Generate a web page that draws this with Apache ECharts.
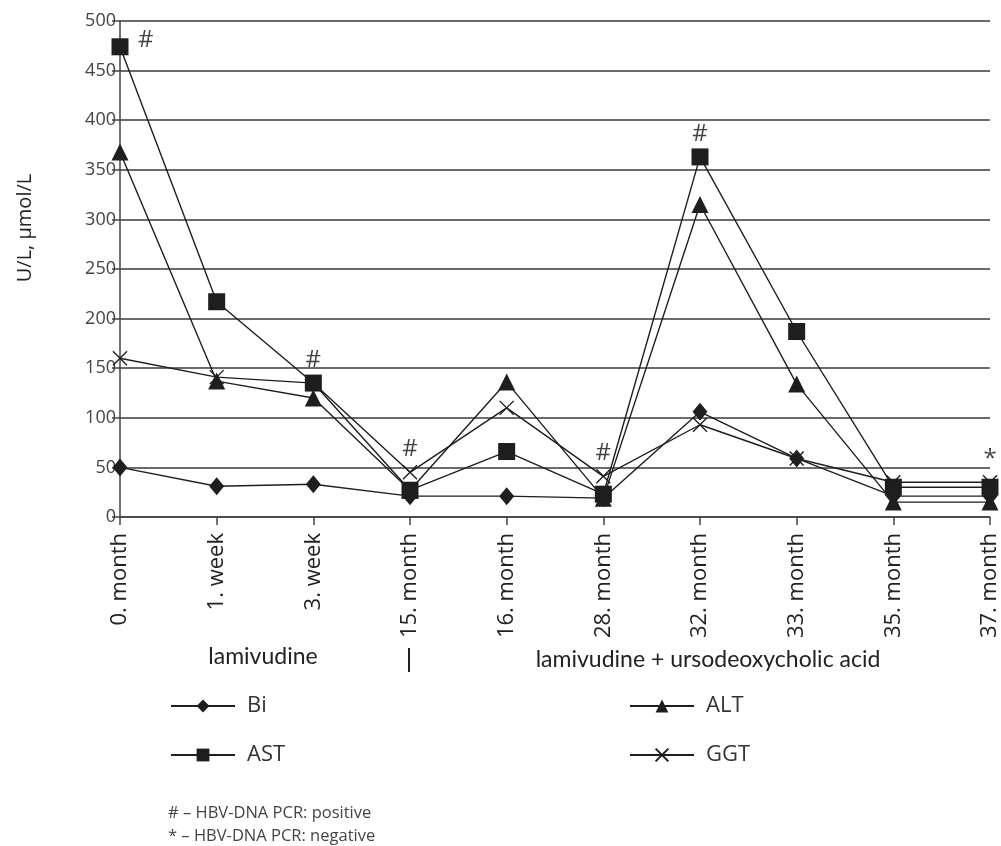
<!DOCTYPE html>
<html><head><meta charset="utf-8">
<script src="https://cdn.jsdelivr.net/npm/echarts/dist/echarts.min.js"></script>
<style>html,body{margin:0;padding:0;background:#fff}#c{width:1001px;height:846px}</style>
</head><body><div id="c"></div>
<script>
// ---- data ----
const categories = ['0. month','1. week','3. week','15. month','16. month','28. month','32. month','33. month','35. month','37. month'];
const bi  = [50, 31, 33, 21, 21, 19, 106, 59, 21, 21];
const ast = [474, 217, 135, 27, 66, 23, 363, 187, 30, 30];
const alt = [368, 137, 120, 27, 136, 19, 315, 134, 15, 15];
const ggt = [160, 141, 135, 45, 110, 41, 93, 59, 35, 35];
const hbvMarks = ['#','','#','#','','#','#','','','*'];
const yMin = 0, yMax = 500, yInterval = 50;
const seriesNames = ['Bi','AST','ALT','GGT'];
const yAxisTitle = 'U/L, \u00b5mol/L';
const periodLabels = ['lamivudine','lamivudine + ursodeoxycholic acid'];
const footnotes = ['# \u2013 HBV-DNA PCR: positive','* \u2013 HBV-DNA PCR: negative'];

// ---- chart ----
const INK = '#1e1e1e';
const chart = echarts.init(document.getElementById('c'), null, {renderer:'canvas'});
const topVals = categories.map((c,i)=>Math.max(bi[i],ast[i],alt[i],ggt[i]));

function lineSeries(name, data, symbol, size, extra){
  return Object.assign({
    name, type:'line', data, symbol, symbolSize:size,
    showAllSymbol:true,
    lineStyle:{color:INK, width:1.4},
    itemStyle:{color:INK, borderWidth:0},
    emphasis:{disabled:true},
    z:3
  }, extra||{});
}

const legendCommon = {
  orient:'vertical', top:695, padding:0,
  itemWidth:64, itemHeight:16, itemGap:27,
  textStyle:{fontSize:22, color:'#333', lineHeight:22, fontFamily:'Open Sans', padding:[0,0,0,7]}
};

const option = {
  backgroundColor:'#fff',
  animation:false,
  textStyle:{fontFamily:'Open Sans'},
  grid:{left:120, right:11, top:21, bottom:329, containLabel:false, outerBoundsMode:'none'},
  xAxis:{
    type:'category', data:categories, boundaryGap:false,
    axisLine:{show:true, lineStyle:{color:'#444', width:1.5}},
    axisTick:{show:true, length:8, inside:false, lineStyle:{color:'#444', width:1.5}},
    axisLabel:{rotate:90, margin:16, fontSize:22, color:'#222', fontFamily:'Open Sans', interval:0},
    splitLine:{show:false}
  },
  yAxis:{
    type:'value', min:yMin, max:yMax, interval:yInterval,
    axisLine:{show:true, lineStyle:{color:'#444', width:1.5}},
    axisTick:{show:true, length:8, lineStyle:{color:'#444', width:1.5}},
    axisLabel:{fontSize:18, color:'#444', margin:4, fontFamily:'Open Sans'},
    splitLine:{show:true, lineStyle:{color:'#3a3a3a', width:1.5}}
  },
  legend:[
    Object.assign({data:[seriesNames[0], seriesNames[1]], left:170}, legendCommon),
    Object.assign({data:[seriesNames[2], seriesNames[3]], left:629}, legendCommon)
  ],
  series:[
    lineSeries(seriesNames[0], bi, 'diamond', [15,18]),
    lineSeries(seriesNames[1], ast, 'rect', 17),
    lineSeries(seriesNames[2], alt, 'triangle', 17),
    lineSeries(seriesNames[3], ggt, 'path://M0,0L10,10M10,0L0,10', 14,
      {itemStyle:{color:INK, borderColor:INK, borderWidth:1.4}}),
    {
      name:'marks', type:'scatter', symbolSize:0, silent:true, z:5,
      data: topVals.map((v,i)=> hbvMarks[i] ? (i===0 ?
        {value:v, label:{position:'right', distance:18, offset:[0,-7]}} : v) : '-'),
      label:{show:true, position:'top', distance:11, fontSize:24, color:'#111', fontFamily:'Open Sans',
        formatter:p=>hbvMarks[p.dataIndex]}
    }
  ],
  graphic:[
    {type:'text', x:25, y:228, rotation:Math.PI/2,
     style:{text:yAxisTitle, font:'20px "Open Sans"', fill:'#222', align:'center', verticalAlign:'middle'}},
    {type:'text', x:263, y:657,
     style:{text:periodLabels[0], font:'23px Lato', fill:'#222', align:'center', verticalAlign:'middle'}},
    {type:'line', shape:{x1:409, y1:648, x2:409, y2:672}, style:{stroke:'#222', lineWidth:2}},
    {type:'text', x:708, y:660,
     style:{text:periodLabels[1], font:'23px Lato', fill:'#222', align:'center', verticalAlign:'middle'}},
    {type:'text', x:168, y:813,
     style:{text:footnotes[0], font:'16.5px "Open Sans"', fill:'#444', align:'left', verticalAlign:'middle'}},
    {type:'text', x:168, y:836,
     style:{text:footnotes[1], font:'16.5px "Open Sans"', fill:'#444', align:'left', verticalAlign:'middle'}}
  ]
};
chart.setOption(option);
</script>
</body></html>
